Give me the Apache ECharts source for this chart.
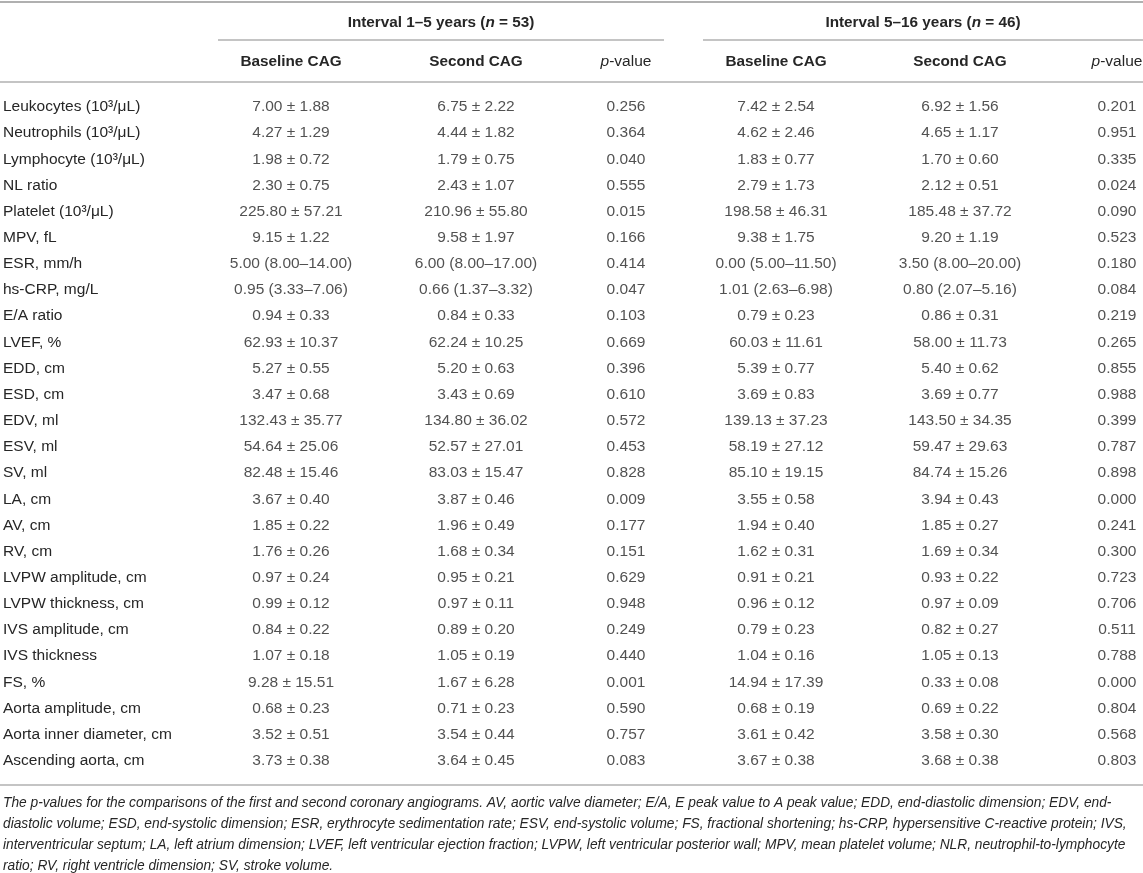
<!DOCTYPE html>
<html>
<head>
<meta charset="utf-8">
<script src="https://cdn.jsdelivr.net/npm/echarts@6/dist/echarts.min.js"></script>
<style>
    html, body { margin: 0; padding: 0; background: #fff; }
    #table { width: 1143px; height: 873px; }
</style>
</head>
<body>
<div id="table"></div>
<script>
// 表格数据（按列存放）
const rowLabels = [
    'Leukocytes (10³/μL)', 'Neutrophils (10³/μL)', 'Lymphocyte (10³/μL)', 'NL ratio',
    'Platelet (10³/μL)', 'MPV, fL', 'ESR, mm/h', 'hs-CRP, mg/L', 'E/A ratio', 'LVEF, %',
    'EDD, cm', 'ESD, cm', 'EDV, ml', 'ESV, ml', 'SV, ml', 'LA, cm', 'AV, cm', 'RV, cm',
    'LVPW amplitude, cm', 'LVPW thickness, cm', 'IVS amplitude, cm', 'IVS thickness',
    'FS, %', 'Aorta amplitude, cm', 'Aorta inner diameter, cm', 'Ascending aorta, cm'
];

const baseline1 = [
    '7.00 ± 1.88', '4.27 ± 1.29', '1.98 ± 0.72', '2.30 ± 0.75', '225.80 ± 57.21', '9.15 ± 1.22',
    '5.00 (8.00–14.00)', '0.95 (3.33–7.06)', '0.94 ± 0.33', '62.93 ± 10.37', '5.27 ± 0.55',
    '3.47 ± 0.68', '132.43 ± 35.77', '54.64 ± 25.06', '82.48 ± 15.46', '3.67 ± 0.40',
    '1.85 ± 0.22', '1.76 ± 0.26', '0.97 ± 0.24', '0.99 ± 0.12', '0.84 ± 0.22', '1.07 ± 0.18',
    '9.28 ± 15.51', '0.68 ± 0.23', '3.52 ± 0.51', '3.73 ± 0.38'
];
const second1 = [
    '6.75 ± 2.22', '4.44 ± 1.82', '1.79 ± 0.75', '2.43 ± 1.07', '210.96 ± 55.80', '9.58 ± 1.97',
    '6.00 (8.00–17.00)', '0.66 (1.37–3.32)', '0.84 ± 0.33', '62.24 ± 10.25', '5.20 ± 0.63',
    '3.43 ± 0.69', '134.80 ± 36.02', '52.57 ± 27.01', '83.03 ± 15.47', '3.87 ± 0.46',
    '1.96 ± 0.49', '1.68 ± 0.34', '0.95 ± 0.21', '0.97 ± 0.11', '0.89 ± 0.20', '1.05 ± 0.19',
    '1.67 ± 6.28', '0.71 ± 0.23', '3.54 ± 0.44', '3.64 ± 0.45'
];
const pValue1 = [
    '0.256', '0.364', '0.040', '0.555', '0.015', '0.166', '0.414', '0.047', '0.103', '0.669',
    '0.396', '0.610', '0.572', '0.453', '0.828', '0.009', '0.177', '0.151', '0.629', '0.948',
    '0.249', '0.440', '0.001', '0.590', '0.757', '0.083'
];
const baseline2 = [
    '7.42 ± 2.54', '4.62 ± 2.46', '1.83 ± 0.77', '2.79 ± 1.73', '198.58 ± 46.31', '9.38 ± 1.75',
    '0.00 (5.00–11.50)', '1.01 (2.63–6.98)', '0.79 ± 0.23', '60.03 ± 11.61', '5.39 ± 0.77',
    '3.69 ± 0.83', '139.13 ± 37.23', '58.19 ± 27.12', '85.10 ± 19.15', '3.55 ± 0.58',
    '1.94 ± 0.40', '1.62 ± 0.31', '0.91 ± 0.21', '0.96 ± 0.12', '0.79 ± 0.23', '1.04 ± 0.16',
    '14.94 ± 17.39', '0.68 ± 0.19', '3.61 ± 0.42', '3.67 ± 0.38'
];
const second2 = [
    '6.92 ± 1.56', '4.65 ± 1.17', '1.70 ± 0.60', '2.12 ± 0.51', '185.48 ± 37.72', '9.20 ± 1.19',
    '3.50 (8.00–20.00)', '0.80 (2.07–5.16)', '0.86 ± 0.31', '58.00 ± 11.73', '5.40 ± 0.62',
    '3.69 ± 0.77', '143.50 ± 34.35', '59.47 ± 29.63', '84.74 ± 15.26', '3.94 ± 0.43',
    '1.85 ± 0.27', '1.69 ± 0.34', '0.93 ± 0.22', '0.97 ± 0.09', '0.82 ± 0.27', '1.05 ± 0.13',
    '0.33 ± 0.08', '0.69 ± 0.22', '3.58 ± 0.30', '3.68 ± 0.38'
];
const pValue2 = [
    '0.201', '0.951', '0.335', '0.024', '0.090', '0.523', '0.180', '0.084', '0.219', '0.265',
    '0.855', '0.988', '0.399', '0.787', '0.898', '0.000', '0.241', '0.300', '0.723', '0.706',
    '0.511', '0.788', '0.000', '0.804', '0.568', '0.803'
];

const groupHeaders = ['Interval 1–5 years', 'Interval 5–16 years'];
const groupSizes = [53, 46];
const columnHeaders = ['Baseline CAG', 'Second CAG', 'p-value', 'Baseline CAG', 'Second CAG', 'p-value'];

const footnoteLines = [
    'The p-values for the comparisons of the first and second coronary angiograms. AV, aortic valve diameter; E/A, E peak value to A peak value; EDD, end-diastolic dimension; EDV, end-',
    'diastolic volume; ESD, end-systolic dimension; ESR, erythrocyte sedimentation rate; ESV, end-systolic volume; FS, fractional shortening; hs-CRP, hypersensitive C-reactive protein; IVS,',
    'interventricular septum; LA, left atrium dimension; LVEF, left ventricular ejection fraction; LVPW, left ventricular posterior wall; MPV, mean platelet volume; NLR, neutrophil-to-lymphocyte',
    'ratio; RV, right ventricle dimension; SV, stroke volume.'
];

// 版式
const W = 1143;
const colCenters = [291, 476, 626, 776, 960, 1117];
const groupSpans = [[218, 664], [703, 1143]];
const FONT = '"Liberation Sans", Arial, Helvetica, sans-serif';
const TEXT = '#262626';
const RULE = '#b0b0b0';
const FS = 15.5;
const HFS = 15.3;
const NOTE_FS = 13.75;
const ROW_H = 26.15;
const FIRST_ROW_Y = 107;

const chart = echarts.init(document.getElementById('table'), null, { renderer: 'canvas' });

const columns = [baseline1, second1, pValue1, baseline2, second2, pValue2];

const series = columns.map((col, c) => ({
    type: 'scatter',
    symbolSize: 1,
    itemStyle: { color: 'rgba(0,0,0,0)' },
    silent: true,
    data: col.map((_, i) => [colCenters[c], rowLabels[i]]),
    label: {
        show: true,
        position: 'inside',
        formatter: p => col[p.dataIndex],
        fontFamily: FONT,
        fontSize: FS,
        color: TEXT
    }
}));

// 表头、横线、脚注
const hline = (x1, x2, y, w) => ({
    type: 'line',
    silent: true,
    shape: { x1, y1: y, x2, y2: y },
    style: { stroke: RULE, lineWidth: w }
});

const centerText = (x, y, text, rich) => ({
    type: 'text',
    silent: true,
    x, y,
    style: {
        text,
        rich,
        textAlign: 'center',
        textVerticalAlign: 'middle',
        align: 'center',
        verticalAlign: 'middle',
        fontFamily: FONT,
        fontSize: HFS,
        fill: TEXT
    }
});

const headRich = {
    b: { fontFamily: FONT, fontSize: HFS, fontWeight: 'bold', fill: TEXT, color: TEXT },
    bi: { fontFamily: FONT, fontSize: HFS, fontWeight: 'bold', fontStyle: 'italic', fill: TEXT, color: TEXT },
    r: { fontFamily: FONT, fontSize: FS, fill: TEXT, color: TEXT },
    i: { fontFamily: FONT, fontSize: FS, fontStyle: 'italic', fill: TEXT, color: TEXT }
};

const graphics = [
    hline(0, W, 2, 2),
    hline(groupSpans[0][0], groupSpans[0][1], 40, 1.5),
    hline(groupSpans[1][0], groupSpans[1][1], 40, 1.5),
    hline(0, W, 82, 1.5),
    hline(0, W, 785, 1.5)
];

groupHeaders.forEach((g, k) => {
    const cx = (groupSpans[k][0] + groupSpans[k][1]) / 2;
    graphics.push(centerText(cx, 23, `{b|${g} (}{bi|n}{b| = ${groupSizes[k]})}`, headRich));
});

columnHeaders.forEach((h, c) => {
    const txt = h === 'p-value' ? '{i|p}{r|-value}' : `{b|${h}}`;
    graphics.push(centerText(colCenters[c], 62, txt, headRich));
});

footnoteLines.forEach((line, k) => {
    graphics.push({
        type: 'text',
        silent: true,
        x: 3,
        y: 803 + k * 21,
        style: {
            text: line,
            textVerticalAlign: 'middle',
            verticalAlign: 'middle',
            fontFamily: FONT,
            fontSize: NOTE_FS,
            fontStyle: 'italic',
            fill: TEXT
        }
    });
});

const option = {
    animation: false,
    backgroundColor: '#fff',
    grid: {
        left: 0,
        right: 0,
        top: FIRST_ROW_Y - ROW_H / 2,
        height: ROW_H * rowLabels.length
    },
    xAxis: { type: 'value', min: 0, max: W, show: false },
    yAxis: {
        type: 'category',
        inverse: true,
        data: rowLabels,
        axisLine: { show: false },
        axisTick: { show: false },
        splitLine: { show: false },
        axisLabel: {
            inside: true,
            margin: 3,
            fontFamily: FONT,
            fontSize: FS,
            color: TEXT,
            interval: 0
        }
    },
    series,
    graphic: { elements: graphics }
};

chart.setOption(option);
</script>
</body>
</html>
